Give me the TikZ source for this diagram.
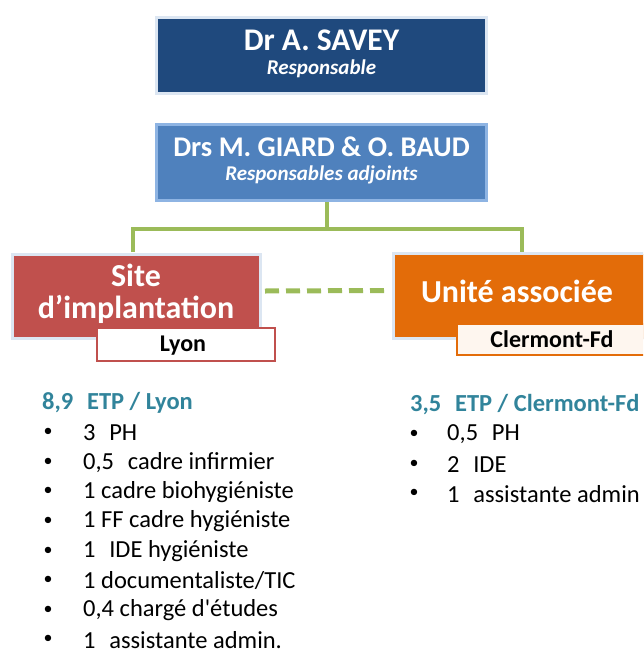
\documentclass[tikz,border=0pt]{standalone}
\usepackage{fontspec}
\setmainfont{Carlito}[Ligatures=TeXOff]
\definecolor{darkblue}{HTML}{1F497D}
\definecolor{midblue}{HTML}{4F81BD}
\definecolor{rimblue}{HTML}{DCE6F2}
\definecolor{rimblue2}{HTML}{8EB4E3}
\definecolor{redbox}{HTML}{C0504D}
\definecolor{orangebox}{HTML}{E36C09}
\definecolor{greenline}{HTML}{9BBB59}
\definecolor{tealtext}{HTML}{31849B}
\definecolor{creamfill}{HTML}{FEF6EF}
\tikzset{
  box/.style={draw=rimblue, line width=3pt, minimum width=330pt, minimum height=76pt, inner sep=0pt},
  tag/.style={line width=2.5pt, fill=white, inner sep=0pt},
  conn/.style={draw=greenline, line width=4.5pt},
  dashconn/.style={draw=greenline, line width=5pt, dash pattern=on 14pt off 7pt},
  wtext/.style={text=white, font=\bfseries, inner sep=0pt, align=center},
  head/.style={text=tealtext, font=\bfseries\fontsize{24.5}{28}\selectfont, anchor=west, inner sep=0pt},
  item/.style={font=\fontsize{24.5}{28}\selectfont, anchor=west, inner sep=0pt},
  bul/.style={font=\fontsize{18}{22}\selectfont, inner sep=0pt},
}
\begin{document}
\begin{tikzpicture}[x=1pt,y=-1pt]
\useasboundingbox (0,0) rectangle (643,651);
\clip (0,0) rectangle (643,651);
% top boxes
\node[box, fill=darkblue] (b1) at (321.5,55.5) {};
\node[wtext, font=\bfseries\fontsize{31.5}{34}\selectfont] (b1t) at (321.5,40) {Dr A. SAVEY};
\node[wtext, font=\bfseries\itshape\fontsize{21}{24}\selectfont] (b1s) at (321.5,69) {Responsable};
\node[box, draw=rimblue2, fill=midblue] (b2) at (321.5,162.5) {};
\node[wtext, font=\bfseries\fontsize{28.5}{31}\selectfont] (b2t) at (321.5,147) {Drs M. GIARD \& O. BAUD};
\node[wtext, font=\bfseries\itshape\fontsize{21}{24}\selectfont] (b2s) at (321.5,175) {Responsables adjoints};
% site boxes
\node[box, fill=redbox, minimum width=248pt, minimum height=84pt] (red) at (136.5,296.5) {};
\node[wtext, font=\bfseries\fontsize{32}{34}\selectfont] (redt1) at (136,275) {Site};
\node[wtext, font=\bfseries\fontsize{32}{34}\selectfont] (redt2) at (136,309) {d’implantation};
\node[box, fill=orangebox, minimum width=300pt, minimum height=85pt] (ora) at (543.5,296) {};
\node[wtext, font=\bfseries\fontsize{32}{34}\selectfont] (orat) at (517,291) {Unité associée};
\node[tag, draw=redbox, minimum width=178pt, minimum height=33pt] (lyon) at (186,344.5) {};
\node[font=\bfseries\fontsize{24}{26}\selectfont, inner sep=0pt] (lyont) at (183,346) {Lyon};
\node[tag, draw=orangebox, fill=creamfill, minimum width=240pt, minimum height=31pt] (cf) at (577,339.5) {};
\node[font=\bfseries\fontsize{24}{26}\selectfont, inner sep=0pt] (cft) at (552,339) {Clermont-Fd};
% connectors
\coordinate (bar) at (327,229);
\coordinate (lx) at (133,252);
\coordinate (rx) at (522,252);
\draw[conn] ([xshift=5.5pt]b2.south) -- (bar);
\draw[conn] (lx) |- (bar) -| (rx);
\draw[dashconn] ([yshift=5.5pt,xshift=3pt]red.east) -- ([yshift=5.5pt,xshift=-7pt]ora.west);
% Lyon list
\node[head] (lh) at (42,403) {8,9\,\, ETP / Lyon};
\foreach \t [count=\i] in {{3\,\, PH}, {0,5\,\, cadre infirmier}, {1 cadre biohygiéniste}, {1 FF cadre hygiéniste}, {1\,\, IDE hygiéniste}, {1 documentaliste/TIC}, {0,4 chargé d'études}, {1\,\, assistante admin.}}{
  \node[bul] (lb\i) at (48,403+29.6*\i) {•};
  \node[item] (li\i) at (83,403+29.6*\i) {\t};
}
% Clermont list
\node[head] (ch) at (410,405) {3,5\,\, ETP / Clermont-Fd};
\foreach \t [count=\i] in {{0,5\,\, PH}, {2\,\, IDE}, {1\,\, assistante admin}}{
  \node[bul] (cb\i) at (414,405+29.6*\i) {•};
  \node[item] (ci\i) at (447,405+29.6*\i) {\t};
}
\end{tikzpicture}
\end{document}
